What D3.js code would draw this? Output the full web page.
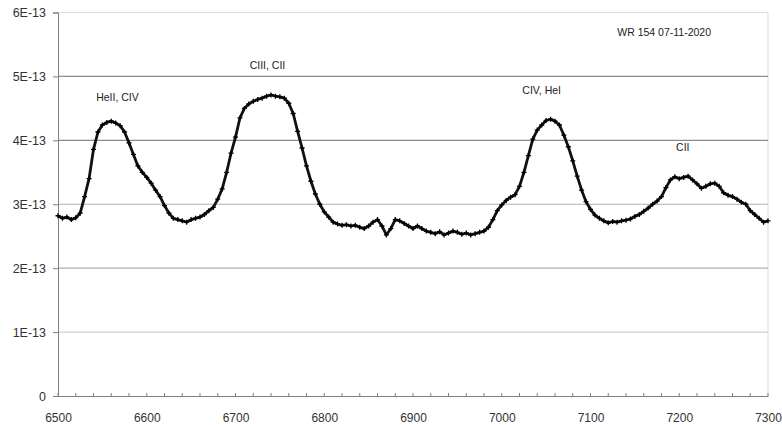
<!DOCTYPE html>
<html><head><meta charset="utf-8">
<script src="https://cdn.jsdelivr.net/npm/d3@7/dist/d3.min.js"></script>
<style>body{margin:0;background:#fff}svg{display:block;font-family:"Liberation Sans",Arial,sans-serif}</style>
</head><body><svg id="c" width="782" height="425"></svg>
<script>
// wavelength (Angstrom), every 5 A
const wlStart = 6500, wlStep = 5;
// flux in units of 1E-13
const flux = [
2.82,2.78,2.80,2.76,2.79,2.86,3.12,3.40,3.86,4.13,
4.24,4.28,4.30,4.27,4.23,4.13,3.96,3.78,3.60,3.50,
3.42,3.33,3.22,3.12,2.98,2.86,2.78,2.76,2.74,2.72,
2.76,2.78,2.80,2.84,2.90,2.95,3.08,3.24,3.50,3.80,
4.05,4.35,4.50,4.57,4.61,4.64,4.66,4.69,4.71,4.69,
4.68,4.66,4.58,4.42,4.14,3.88,3.60,3.36,3.16,3.00,
2.88,2.80,2.72,2.69,2.67,2.68,2.66,2.67,2.64,2.62,
2.66,2.72,2.76,2.66,2.52,2.62,2.76,2.74,2.70,2.66,
2.62,2.66,2.62,2.58,2.56,2.54,2.57,2.52,2.55,2.58,
2.56,2.53,2.55,2.52,2.54,2.56,2.58,2.64,2.76,2.90,
2.99,3.06,3.11,3.15,3.28,3.50,3.76,4.02,4.16,4.24,
4.31,4.33,4.30,4.24,4.08,3.90,3.68,3.44,3.22,3.04,
2.92,2.83,2.78,2.74,2.71,2.73,2.72,2.74,2.75,2.77,
2.81,2.84,2.89,2.94,3.00,3.05,3.12,3.26,3.38,3.43,
3.40,3.42,3.44,3.38,3.32,3.25,3.28,3.32,3.33,3.28,
3.18,3.14,3.12,3.08,3.03,3.00,2.90,2.84,2.78,2.72,
2.74];
const xTicks = [6500,6600,6700,6800,6900,7000,7100,7200,7300];
const yTicks = [0,1,2,3,4,5,6];
const yLabels = ["0","1E-13","2E-13","3E-13","4E-13","5E-13","6E-13"];
const labels = [
  {text:"HeII, CIV", wl:6567, v:4.61},
  {text:"CIII, CII", wl:6736, v:5.12},
  {text:"CIV, HeI", wl:7045, v:4.73},
  {text:"CII", wl:7204, v:3.83},
  {text:"WR 154 07-11-2020", wl:7183, v:5.63}
];

const data = flux.map((v,i)=>({wl: wlStart + i*wlStep, v}));
const svg = d3.select("#c");
const x = d3.scaleLinear().domain([6500,7300]).range([58,768]);
const y = d3.scaleLinear().domain([0,6]).range([396,12.5]);

// border top/right
svg.append("path").attr("d",`M58,${y(6)}H${x(7300)}V${y(0)}`).attr("fill","none").attr("stroke","#dcdcdc").attr("stroke-width",1);

// gridlines
svg.append("g").selectAll("line").data(yTicks.filter(t=>t>0&&t<6)).join("line")
  .attr("x1",x(6500)).attr("x2",x(7300)).attr("y1",d=>y(d)).attr("y2",d=>y(d))
  .attr("stroke",d=>d>=4?"#8c8c8c":(d===1?"#cfcfcf":"#b0b0b0")).attr("stroke-width",1.2);

// y axis
const ya = svg.append("g").attr("transform","translate(58,0)")
  .call(d3.axisLeft(y).tickValues(yTicks).tickFormat((d,i)=>yLabels[i]).tickSize(5).tickPadding(7));
ya.select(".domain").attr("stroke","#808080");
ya.selectAll(".tick line").attr("stroke","#808080");
ya.selectAll("text").attr("font-size","12.5px").attr("fill","#333").attr("font-family","'Liberation Sans',Arial,sans-serif");

// x axis with minor ticks inside
const minor = d3.range(6500,7301,20);
svg.append("g").selectAll("line").data(minor).join("line")
  .attr("x1",d=>x(d)).attr("x2",d=>x(d)).attr("y1",y(0)).attr("y2",y(0)-3)
  .attr("stroke","#808080");
const xa = svg.append("g").attr("transform",`translate(0,${y(0)})`)
  .call(d3.axisBottom(x).tickValues(xTicks).tickFormat(d3.format("d")).tickSize(0).tickPadding(17));
xa.select(".domain").attr("stroke","#808080");
xa.selectAll("text").attr("font-size","12px").attr("fill","#333").attr("font-family","'Liberation Sans',Arial,sans-serif");

// spectrum
const line = d3.line().x(d=>x(d.wl)).y(d=>y(d.v));
svg.append("path").datum(data).attr("d",line).attr("fill","none")
  .attr("stroke","#111").attr("stroke-width",2.8).attr("stroke-linejoin","round");
svg.append("g").selectAll("path").data(data).join("path")
  .attr("d",d=>{const cx=x(d.wl), cy=y(d.v); return `M${cx-2.5},${cy}H${cx+2.5}M${cx},${cy-2.5}V${cy+2.5}`;})
  .attr("stroke","#000").attr("stroke-width",1.3);

// annotations
svg.append("g").selectAll("text").data(labels).join("text")
  .attr("x",d=>x(d.wl)).attr("y",d=>y(d.v)).attr("text-anchor","middle")
  .attr("font-size","10.5px").attr("fill","#222").text(d=>d.text);
</script></body></html>
